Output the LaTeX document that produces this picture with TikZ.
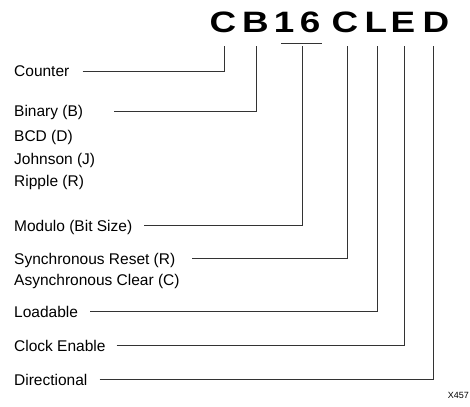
\documentclass[tikz,border=0pt]{standalone}
\usepackage{fontspec}
\setmainfont{Liberation Sans}
\newcommand{\wideletter}[1]{\scalebox{1.25}[1]{#1}}
\begin{document}
\begin{tikzpicture}[x=1pt,y=-1pt,
  lbl/.style={anchor=base west,inner sep=0pt,text height=11pt,text depth=0pt,font=\fontsize{15.5}{18}\selectfont},
  big/.style={anchor=base,inner sep=0pt,font=\fontsize{29.5}{32}\bfseries\selectfont},
  wire/.style={line width=0.7pt,draw=black!80}]
\useasboundingbox (0,0) rectangle (470,406);
% code letters
\node[big] (lC)  at (223,33) {\wideletter{C}};
\node[big] (lB)  at (255.5,33) {\wideletter{B}};
\node[big] (l1)  at (284,33) {\wideletter{1}};
\node[big] (l6)  at (310,33) {\wideletter{6}};
\node[big] (lC2) at (345,33) {\wideletter{C}};
\node[big] (lL)  at (376,33) {\wideletter{L}};
\node[big] (lE)  at (403,33) {\wideletter{E}};
\node[big] (lD)  at (436,33) {\wideletter{D}};
% underline of 16
\coordinate (u1) at (281,43);
\coordinate (u2) at (322,43);
\draw[wire] (u1) -- (u2);
% tick tops
\coordinate (tC)  at (224,46);
\coordinate (tB)  at (256,46);
\coordinate (t16) at (302,46);
\coordinate (tC2) at (347,46);
\coordinate (tL)  at (377,46);
\coordinate (tE)  at (404,46);
\coordinate (tD)  at (433,46);
% labels
\node[lbl] (counter) at (14,77) {Counter};
\node[lbl] (binary)  at (14,117) {Binary (B)};
\node[lbl] (bcd)     at (14,142) {BCD (D)};
\node[lbl] (johnson) at (14,164) {Johnson (J)};
\node[lbl] (ripple)  at (14,186) {Ripple (R)};
\node[lbl] (modulo)  at (14,231) {Modulo (Bit Size)};
\node[lbl] (sync)    at (14,264) {Synchronous Reset (R)};
\node[lbl] (async)   at (14,285) {Asynchronous Clear (C)};
\node[lbl] (load)    at (14,317) {Loadable};
\node[lbl] (clock)   at (14,351) {Clock Enable};
\node[lbl] (dir)     at (14,385) {Directional};
\node[anchor=base east,inner sep=0pt,font=\fontsize{9}{11}\selectfont] (xref) at (469,398) {X457};
% connectors
\draw[wire] ([xshift=13pt]counter.east) -| (tC);
\draw[wire] ([xshift=31pt]binary.east) -| (tB);
\draw[wire] ([xshift=12pt]modulo.east) -| (t16);
\draw[wire] ([xshift=17pt]sync.east) -| (tC2);
\draw[wire] ([xshift=12pt]load.east) -| (tL);
\draw[wire] ([xshift=11pt]clock.east) -| (tE);
\draw[wire] ([xshift=12pt]dir.east) -| (tD);
\end{tikzpicture}
\end{document}
